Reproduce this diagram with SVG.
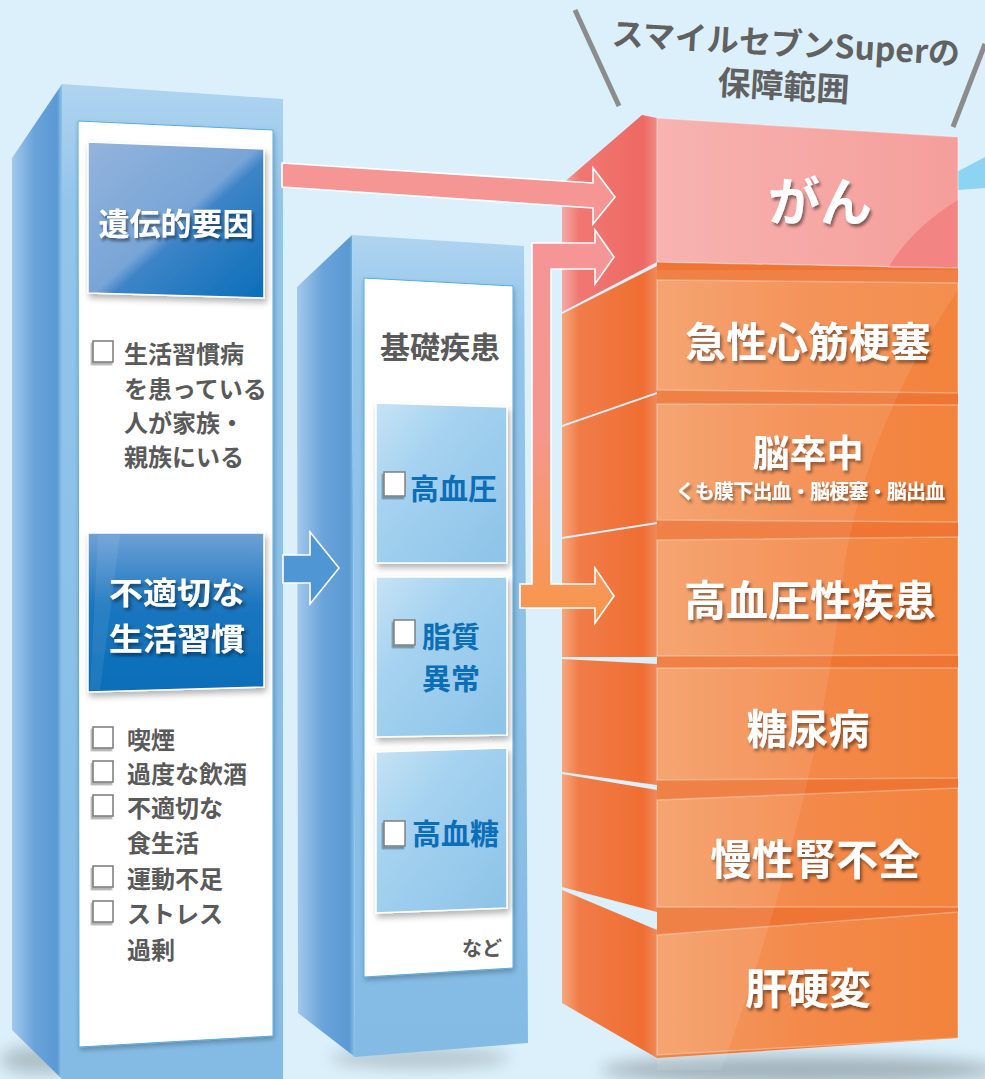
<svg xmlns="http://www.w3.org/2000/svg" width="985" height="1079" viewBox="0 0 985 1079">
<defs>
<style>
.cjk{font-family:"Noto Sans CJK JP","Noto Sans CJK SC",sans-serif;font-weight:700}
.wt{fill:#fff;filter:url(#tsh)}
.gr{fill:#5a5a5a}
.bl{fill:#0c6db9}
.ck{fill:#fff;stroke:#7a7a7a;stroke-width:1.5;filter:url(#cksh)}
.ck2{fill:#fff;stroke:#808080;stroke-width:1.5;filter:url(#cksh)}
.edge{fill:none;stroke:#fff;stroke-opacity:0.3;stroke-width:1.5}
.arrowline{stroke:#fff;stroke-width:1.6;stroke-linejoin:miter}
</style>
<filter id="tsh" x="-20%" y="-30%" width="140%" height="170%"><feDropShadow dx="2" dy="3" stdDeviation="1.8" flood-color="#000" flood-opacity="0.45"/></filter>
<filter id="bsh" x="-10%" y="-10%" width="130%" height="130%"><feDropShadow dx="2" dy="4" stdDeviation="3" flood-color="#000" flood-opacity="0.3"/></filter>
<filter id="psh" x="-10%" y="-5%" width="130%" height="115%"><feDropShadow dx="1" dy="3" stdDeviation="2.5" flood-color="#000" flood-opacity="0.25"/></filter>
<filter id="cksh" x="-30%" y="-30%" width="170%" height="170%"><feDropShadow dx="-1.5" dy="2.5" stdDeviation="0.6" flood-color="#000" flood-opacity="0.3"/></filter>
<filter id="blur8" x="-50%" y="-50%" width="200%" height="200%"><feGaussianBlur stdDeviation="8"/></filter>
<linearGradient id="sideB" x1="0" y1="0" x2="1" y2="0"><stop offset="0" stop-color="#a4c8ec"/><stop offset="0.45" stop-color="#6aa3da"/><stop offset="0.9" stop-color="#5a99d3"/><stop offset="1" stop-color="#8fc2ea"/></linearGradient>
<linearGradient id="frontB" x1="0" y1="0" x2="0" y2="1"><stop offset="0" stop-color="#afd4f0"/><stop offset="0.12" stop-color="#92c5ea"/><stop offset="1" stop-color="#84bbe5"/></linearGradient>
<linearGradient id="g1" x1="0" y1="0" x2="1" y2="1"><stop offset="0" stop-color="#93b4dc"/><stop offset="0.5" stop-color="#78a5d6"/><stop offset="0.56" stop-color="#3d84c7"/><stop offset="1" stop-color="#0a6eb9"/></linearGradient>
<linearGradient id="g2" x1="0" y1="0" x2="0" y2="1"><stop offset="0" stop-color="#6fa1d7"/><stop offset="0.45" stop-color="#1b76bf"/><stop offset="1" stop-color="#0a6db8"/></linearGradient>
<linearGradient id="gm" x1="0" y1="0" x2="1" y2="1"><stop offset="0" stop-color="#c6e3f5"/><stop offset="0.35" stop-color="#a5d2f0"/><stop offset="1" stop-color="#8cc3e8"/></linearGradient>
<linearGradient id="sideO" gradientUnits="userSpaceOnUse" x1="562" y1="0" x2="657" y2="0"><stop offset="0" stop-color="#f6a77d"/><stop offset="0.18" stop-color="#f17c48"/><stop offset="0.85" stop-color="#ef6e32"/><stop offset="1" stop-color="#f08a5a"/></linearGradient>
<linearGradient id="sideP" gradientUnits="userSpaceOnUse" x1="562" y1="0" x2="657" y2="0"><stop offset="0" stop-color="#f5aaa7"/><stop offset="0.18" stop-color="#f17772"/><stop offset="0.85" stop-color="#ee6963"/><stop offset="1" stop-color="#f08a86"/></linearGradient>
<linearGradient id="frontO" gradientUnits="userSpaceOnUse" x1="657" y1="0" x2="958" y2="0"><stop offset="0" stop-color="#f49c64"/><stop offset="0.5" stop-color="#f3894a"/><stop offset="1" stop-color="#f2833c"/></linearGradient>
<linearGradient id="frontP" gradientUnits="userSpaceOnUse" x1="657" y1="0" x2="958" y2="0"><stop offset="0" stop-color="#f7b3b0"/><stop offset="1" stop-color="#f59e9b"/></linearGradient>
<linearGradient id="arrL" gradientUnits="userSpaceOnUse" x1="0" y1="243" x2="0" y2="622"><stop offset="0" stop-color="#f59597"/><stop offset="0.5" stop-color="#f5978c"/><stop offset="1" stop-color="#f7964a"/></linearGradient>
<clipPath id="frontClip"><rect x="657" y="100" width="302" height="970"/></clipPath>
</defs>

<rect id="background" x="0" y="0" width="985" height="1079" fill="#dbf0fb"/>

<g id="shadows">
<ellipse cx="800" cy="1070" rx="200" ry="14" fill="#000" opacity="0.25" filter="url(#blur8)"/>
<ellipse cx="420" cy="1058" rx="90" ry="10" fill="#000" opacity="0.18" filter="url(#blur8)"/>
<ellipse cx="40" cy="1060" rx="40" ry="14" fill="#000" opacity="0.2" filter="url(#blur8)"/>
</g>

<g id="title">
<line x1="575" y1="10" x2="619" y2="106" stroke="#8c8c8c" stroke-width="5"/>
<line x1="985" y1="44" x2="953" y2="127" stroke="#8c8c8c" stroke-width="5"/>
<g transform="rotate(3.3 785 60)">
<text class="cjk" x="785" y="41" font-size="32" text-anchor="middle" dominant-baseline="central" fill="#616161">スマイルセブンSuperの</text>
<text class="cjk" x="785" y="84" font-size="33" text-anchor="middle" dominant-baseline="central" fill="#616161">保障範囲</text>
</g>
</g>

<g id="pointer">
<polygon points="985,157 985,188 917,193" fill="#8dd3f2"/>
</g>

<!-- Left column -->
<g id="left-column">
<polygon points="12,158 62,84 62,1079 12,1030" fill="url(#sideB)"/>
<polygon points="62,84 283,99 283,1079 62,1079" fill="url(#frontB)"/>
<polygon points="78,121 273,130 273,1036 79,1047" fill="#fff" stroke="#55aee0" stroke-width="1" filter="url(#psh)"/>
</g>

<g id="node-genetic">
<polygon points="88,142 264,149 264,298 88,293" fill="url(#g1)" stroke="#fff" stroke-width="1.5" filter="url(#bsh)"/>
<text class="cjk wt" x="176" y="221" font-size="31" text-anchor="middle" dominant-baseline="central">遺伝的要因</text>
</g>

<g id="list-genetic" class="cjk gr" font-size="24">
<rect class="ck" x="93" y="341" width="20" height="21"/>
<text x="124" y="352" dominant-baseline="central">生活習慣病</text>
<text x="124" y="387" dominant-baseline="central">を患っている</text>
<text x="124" y="421" dominant-baseline="central">人が家族・</text>
<text x="124" y="455" dominant-baseline="central">親族にいる</text>
</g>

<g id="node-lifestyle">
<polygon points="88,533 264,533 264,687 88,692" fill="url(#g2)" stroke="#fff" stroke-width="1.5" filter="url(#bsh)"/>
<polygon points="98,535 120,535 100,690 90,690" fill="#fff" opacity="0.08"/>
<g transform="translate(177 0) scale(1.1 1)">
<text class="cjk wt" font-size="31" text-anchor="middle" dominant-baseline="central"><tspan x="0" y="590">不適切な</tspan><tspan x="0" y="636">生活習慣</tspan></text>
</g>
</g>

<g id="list-lifestyle" class="cjk gr" font-size="24">
<rect class="ck" x="93" y="727" width="20" height="21"/>
<text x="127" y="738" dominant-baseline="central">喫煙</text>
<rect class="ck" x="93" y="761" width="20" height="21"/>
<text x="127" y="772" dominant-baseline="central">過度な飲酒</text>
<rect class="ck" x="93" y="795" width="20" height="21"/>
<text x="127" y="806" dominant-baseline="central">不適切な</text>
<text x="127" y="841" dominant-baseline="central">食生活</text>
<rect class="ck" x="93" y="866" width="20" height="21"/>
<text x="127" y="877" dominant-baseline="central">運動不足</text>
<rect class="ck" x="93" y="901" width="20" height="21"/>
<text x="127" y="912" dominant-baseline="central">ストレス</text>
<text x="127" y="948" dominant-baseline="central">過剰</text>
</g>

<!-- Middle column -->
<g id="middle-column">
<polygon points="297,287 352,235 355,1057 298,1013" fill="url(#sideB)"/>
<polygon points="352,235 524,246 528,1043 355,1057" fill="url(#frontB)"/>
<polygon points="364,278 513,286 513,968 364,977" fill="#fff" stroke="#55aee0" stroke-width="1" filter="url(#psh)"/>
<text class="cjk gr" x="440" y="345" font-size="30" text-anchor="middle" dominant-baseline="central">基礎疾患</text>
<text class="cjk gr" x="502" y="947" font-size="20" text-anchor="end" dominant-baseline="central">など</text>
</g>

<g id="node-hypertension">
<polygon points="376,403 507,407 507,563 376,563" fill="url(#gm)" stroke="#fff" stroke-width="1.5" filter="url(#bsh)"/>
<rect class="ck2" x="384" y="472" width="21" height="24"/>
<text class="cjk bl" x="410" y="487" font-size="29" dominant-baseline="central">高血圧</text>
</g>

<g id="node-lipid">
<polygon points="376,577 507,577 507,735 376,737" fill="url(#gm)" stroke="#fff" stroke-width="1.5" filter="url(#bsh)"/>
<rect class="ck2" x="394" y="620" width="21" height="25"/>
<text class="cjk bl" font-size="29" dominant-baseline="central"><tspan x="422" y="635">脂質</tspan><tspan x="422" y="677">異常</tspan></text>
</g>

<g id="node-hyperglycemia">
<polygon points="376,752 507,748 507,908 376,913" fill="url(#gm)" stroke="#fff" stroke-width="1.5" filter="url(#bsh)"/>
<rect class="ck2" x="384" y="821" width="21" height="25"/>
<text class="cjk bl" x="412" y="832" font-size="29" dominant-baseline="central">高血糖</text>
</g>

<!-- Right stack -->
<g id="stack-base">
<polygon points="657,262 958,268 958,1038 657,1058" fill="#ee7534"/>
</g>

<g id="node-cancer">
<polygon points="562,184 642,115 657,118 657,262 562,312" fill="url(#sideP)"/>
<polygon points="657,118 958,137 958,268 657,262" fill="url(#frontP)"/>
<path d="M958,200 Q912,228 888,268 L958,268 Z" fill="#f28583"/>
<polygon class="edge" points="657,118 958,137 958,268 657,262"/>
<text class="cjk wt" x="820" y="198" font-size="52" text-anchor="middle" dominant-baseline="central">がん</text>
</g>

<g id="node-mi">
<polygon points="562,314 657,266 657,392 562,425" fill="url(#sideO)"/>
<polygon points="657,280 958,283 958,393 657,390" fill="url(#frontO)"/>
<polygon class="edge" points="657,280 958,283 958,393 657,390"/>
<text class="cjk wt" x="808" y="339" font-size="41" text-anchor="middle" dominant-baseline="central">急性心筋梗塞</text>
</g>

<g id="node-stroke">
<polygon points="562,427 657,394 657,522 562,537" fill="url(#sideO)"/>
<polygon points="657,404 958,405 958,522 657,520" fill="url(#frontO)"/>
<polygon class="edge" points="657,404 958,405 958,522 657,520"/>
<text class="cjk wt" x="808" y="451" font-size="37" text-anchor="middle" dominant-baseline="central">脳卒中</text>
<text class="cjk wt" x="810" y="490" font-size="20" letter-spacing="-0.8" text-anchor="middle" dominant-baseline="central">くも膜下出血・脳梗塞・脳出血</text>
</g>

<g id="node-hypertensive">
<polygon points="562,539 657,524 657,657 562,657" fill="url(#sideO)"/>
<polygon points="657,540 958,537 958,655 657,656" fill="url(#frontO)"/>
<polygon class="edge" points="657,540 958,537 958,655 657,656"/>
<text class="cjk wt" x="810" y="597" font-size="42" text-anchor="middle" dominant-baseline="central">高血圧性疾患</text>
</g>

<g id="node-diabetes">
<polygon points="562,659 657,664 657,785 562,772" fill="url(#sideO)"/>
<polygon points="657,668 958,668 958,778 657,780" fill="url(#frontO)"/>
<polygon class="edge" points="657,668 958,668 958,778 657,780"/>
<text class="cjk wt" x="808" y="726" font-size="41" text-anchor="middle" dominant-baseline="central">糖尿病</text>
</g>

<g id="node-ckd">
<polygon points="562,774 657,790 657,912 562,887" fill="url(#sideO)"/>
<polygon points="657,800 958,788 958,907 657,907" fill="url(#frontO)"/>
<polygon class="edge" points="657,800 958,788 958,907 657,907"/>
<text class="cjk wt" x="815" y="856" font-size="42" text-anchor="middle" dominant-baseline="central">慢性腎不全</text>
</g>

<g id="node-cirrhosis">
<polygon points="562,890 657,930 657,1058 562,1003" fill="url(#sideO)"/>
<polygon points="657,935 958,912 958,1038 657,1055" fill="url(#frontO)"/>
<polygon class="edge" points="657,935 958,912 958,1038 657,1055"/>
<text class="cjk wt" x="808" y="985" font-size="42" text-anchor="middle" dominant-baseline="central">肝硬変</text>
</g>

<g id="gloss" clip-path="url(#frontClip)">
<path d="M657,270 L958,270 L958,290 Q870,420 845,560 Q820,800 718,1079 L657,1079 Z" fill="#fff" opacity="0.09"/>
</g>

<!-- Connectors -->
<g id="connectors">
<polygon class="arrowline" points="283,555 310,555 310,532 339,568 310,604 310,583 283,583" fill="#4f97d4"/>
<polygon class="arrowline" points="282,163 593,183 593,168 615,197 593,224 593,208 282,187" fill="#f59694"/>
<polygon class="arrowline" points="532,243 595,243 595,230 614,257 595,284 595,269 551,269 551,584 595,584 595,568 614,596 595,623 595,608 520,608 520,584 532,584" fill="url(#arrL)"/>
</g>
</svg>
